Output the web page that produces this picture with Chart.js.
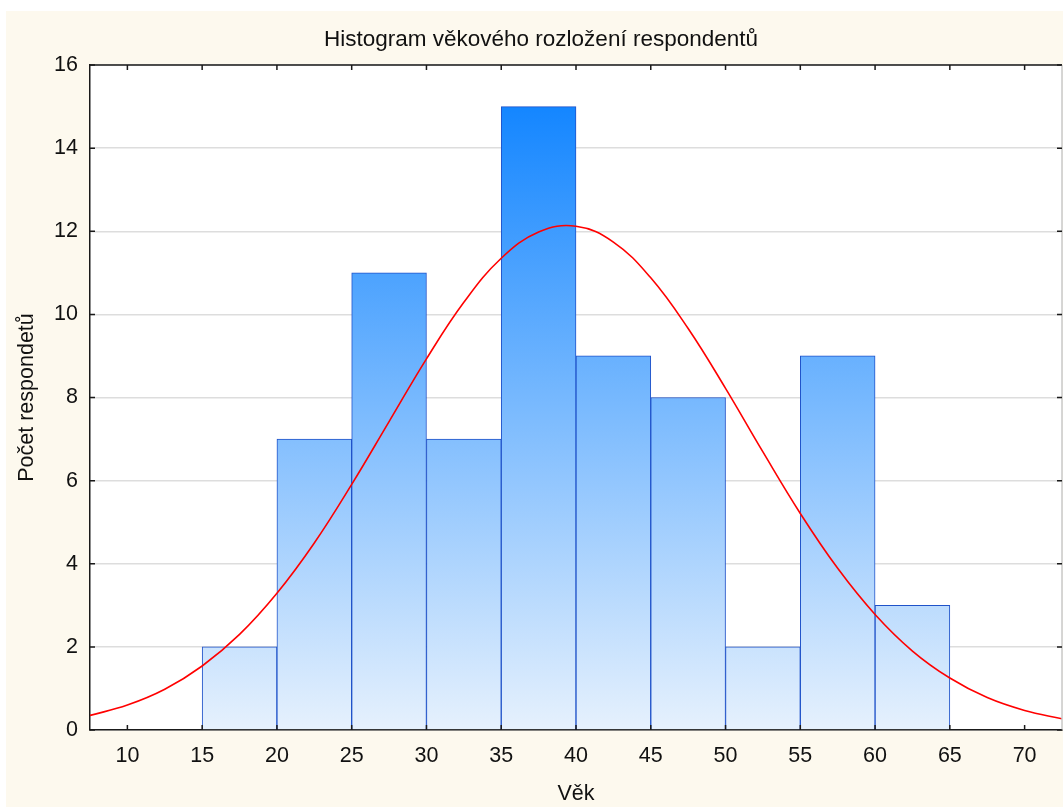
<!DOCTYPE html>
<html>
<head>
<meta charset="utf-8">
<script src="https://cdn.jsdelivr.net/npm/chart.js@4.4.1/dist/chart.umd.min.js"></script>
<style>
  html, body { margin: 0; padding: 0; background: #ffffff; overflow: hidden; width: 1063px; height: 807px; }
  #wrap { position: absolute; left: 6px; top: 11px; width: 1070px; height: 796px; background: #fdf9ee; }
  canvas { display: block; }
</style>
</head>
<body>
<div id="wrap"><canvas id="c" width="1070" height="796"></canvas></div>
<script>
// ---- data ----
const binCenters = [17.5, 22.5, 27.5, 32.5, 37.5, 42.5, 47.5, 52.5, 57.5, 62.5];
const counts     = [2, 7, 11, 7, 15, 9, 8, 2, 9, 3];
const curveX = [7.5, 10, 12.5, 15, 17.5, 20, 22.5, 25, 27.5, 30, 32.5, 35, 37.5, 40, 42.5, 45, 47.5, 50, 52.5, 55, 57.5, 60, 62.5, 65, 67.5, 70, 72.5];
const curveY = [0.35, 0.60, 0.98, 1.54, 2.30, 3.29, 4.50, 5.91, 7.42, 8.93, 10.29, 11.35, 11.98, 12.12, 11.74, 10.88, 9.66, 8.22, 6.69, 5.21, 3.89, 2.78, 1.90, 1.25, 0.78, 0.47, 0.27];
const xTicks = [10, 15, 20, 25, 30, 35, 40, 45, 50, 55, 60, 65, 70];
const yTicks = [0, 2, 4, 6, 8, 10, 12, 14, 16];
const titleText = 'Histogram věkového rozložení respondentů';
const xTitle = 'Věk';
const yTitle = 'Počet respondetů';

const FONT = "'Liberation Sans', Arial, sans-serif";

const barData = binCenters.map((x, i) => ({ x: x, y: counts[i] }));
const lineData = curveX.map((x, i) => ({ x: x, y: curveY[i] }));

function barGradient(ctx) {
  const chart = ctx.chart;
  const area = chart.chartArea;
  if (!area) return '#7ab8fd';
  const ys = chart.scales.y;
  const y0 = ys.getPixelForValue(0);
  const y1 = ys.getPixelForValue(15);
  const g = chart.ctx.createLinearGradient(0, y0, 0, y1);
  g.addColorStop(0, '#e6f1fd');
  g.addColorStop(1, '#1486ff');
  return g;
}

const framePlugin = {
  id: 'frame',
  beforeDraw(chart) {
    const { ctx, chartArea: a } = chart;
    ctx.save();
    ctx.fillStyle = '#ffffff';
    ctx.fillRect(a.left, a.top, a.right - a.left, a.bottom - a.top);
    ctx.restore();
  },
  afterDatasetsDraw(chart) {
    const { ctx, chartArea: a, scales } = chart;
    ctx.save();
    ctx.strokeStyle = '#1a1a1a';
    ctx.lineWidth = 1.5;
    ctx.beginPath();
    ctx.moveTo(a.left, a.top); ctx.lineTo(a.right, a.top);
    ctx.stroke();
    ctx.strokeStyle = '#c8c8c8';
    ctx.beginPath();
    ctx.moveTo(a.right, a.top); ctx.lineTo(a.right, a.bottom);
    ctx.stroke();
    ctx.strokeStyle = '#1a1a1a';
    ctx.beginPath();
    xTicks.forEach(v => {
      const px = scales.x.getPixelForValue(v);
      ctx.moveTo(px, a.bottom); ctx.lineTo(px, a.bottom - 5);
      ctx.moveTo(px, a.top); ctx.lineTo(px, a.top + 5);
    });
    yTicks.forEach(v => {
      const py = scales.y.getPixelForValue(v);
      ctx.moveTo(a.left, py); ctx.lineTo(a.left + 5, py);
      ctx.moveTo(a.right, py); ctx.lineTo(a.right - 5, py);
    });
    ctx.stroke();
    ctx.restore();
  }
};

new Chart(document.getElementById('c'), {
  type: 'bar',
  data: {
    datasets: [
      {
        type: 'line',
        data: lineData,
        borderColor: '#ff0000',
        borderWidth: 1.6,
        pointRadius: 0,
        tension: 0.4,
        fill: false,
        order: 0
      },
      {
        type: 'bar',
        data: barData,
        backgroundColor: barGradient,
        borderColor: '#1f52c9',
        borderWidth: 1,
        barPercentage: 1.0,
        categoryPercentage: 1.0,
        order: 1
      }
    ]
  },
  options: {
    responsive: false,
    animation: false,
    events: [],
    layout: { padding: 0 },
    plugins: {
      legend: { display: false },
      tooltip: { enabled: false },
      title: {
        display: true,
        text: titleText,
        color: '#111111',
        font: { family: FONT, size: 22.5, weight: 'normal', lineHeight: 1.2 },
        padding: { top: 15.5, bottom: 11.5 }
      }
    },
    scales: {
      x: {
        type: 'linear',
        min: 7.5,
        max: 72.5,
        offset: false,
        grid: { display: false, drawTicks: false },
        border: { display: true, color: '#1a1a1a', width: 1.5 },
        afterBuildTicks: (s) => { s.ticks = xTicks.map(v => ({ value: v })); },
        afterFit: (s) => { s.height = 77; },
        ticks: {
          color: '#111111',
          font: { family: FONT, size: 21.5 },
          padding: 13,
          maxRotation: 0,
          autoSkip: false
        },
        title: {
          display: true,
          text: xTitle,
          color: '#111111',
          font: { family: FONT, size: 21.5, lineHeight: 1.2 },
          padding: { top: 0, bottom: 0 }
        }
      },
      y: {
        min: 0,
        max: 16,
        grid: { display: true, color: '#dddddd', lineWidth: 1.5, drawTicks: false },
        border: { display: true, color: '#1a1a1a', width: 1.5 },
        afterBuildTicks: (s) => { s.ticks = yTicks.map(v => ({ value: v })); },
        afterFit: (s) => { s.width = 84; },
        ticks: {
          color: '#111111',
          font: { family: FONT, size: 21.5 },
          padding: 12
        },
        title: {
          display: true,
          text: yTitle,
          color: '#111111',
          font: { family: FONT, size: 21.5, lineHeight: 1.2 },
          padding: { top: 8, bottom: 0 }
        }
      },
      yRight: {
        position: 'right',
        min: 0,
        max: 16,
        display: true,
        grid: { display: false, drawTicks: false },
        border: { display: false },
        ticks: { display: false },
        afterFit: (s) => { s.width = 14; }
      }
    }
  },
  plugins: [framePlugin]
});
</script>
</body>
</html>
